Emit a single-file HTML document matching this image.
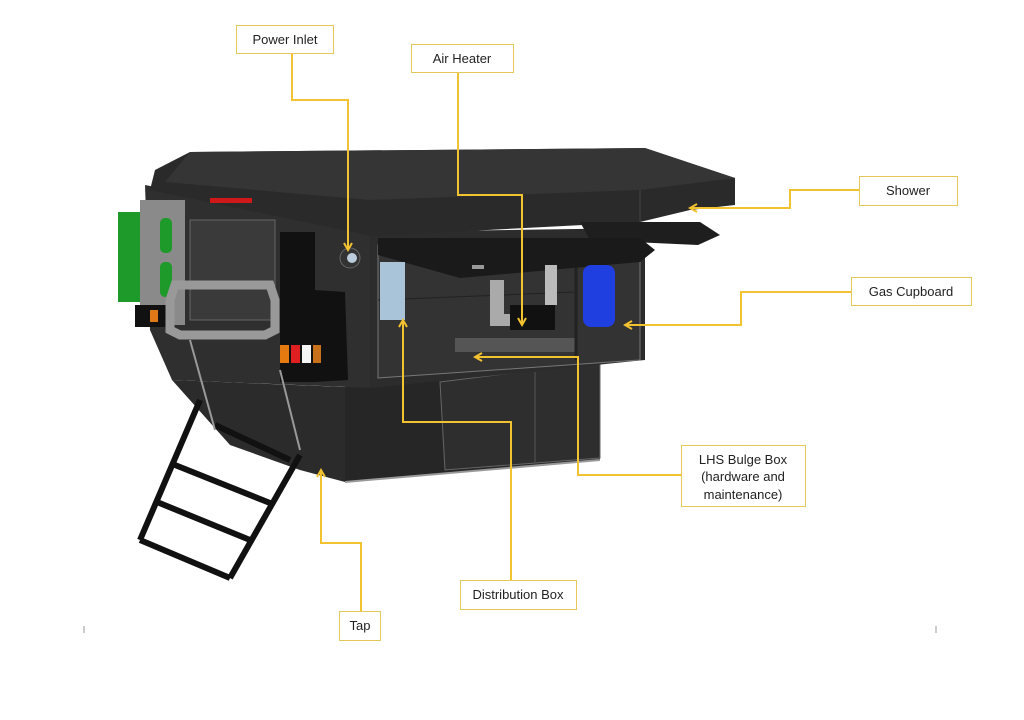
<!DOCTYPE html>
<html><head><meta charset="utf-8"><style>
html,body{margin:0;padding:0;background:#fff;width:1024px;height:720px;overflow:hidden}
svg{display:block}
text{font-family:"Liberation Sans",sans-serif;font-size:13px;fill:#222}
</style></head><body>
<svg width="1024" height="720" viewBox="0 0 1024 720" xmlns="http://www.w3.org/2000/svg">
<defs>
<marker id="a" markerWidth="10" markerHeight="10" refX="8" refY="5" orient="auto" markerUnits="userSpaceOnUse">
<path d="M1,1 L8,5 L1,9" fill="none" stroke="#f2c230" stroke-width="2"/></marker>
</defs>
<!-- lower body -->
<polygon points="172,380 370,388 345,482 300,470 230,445" fill="#2b2b2b"/>
<polygon points="345,385 600,360 600,460 345,482" fill="#262626"/>
<polygon points="440,382 600,362 600,458 445,470" fill="#2e2e2e" stroke="#666" stroke-width="1"/>
<line x1="535" y1="372" x2="535" y2="462" stroke="#555"/>
<line x1="345" y1="482" x2="600" y2="460" stroke="#999" stroke-width="2"/>
<!-- left upper face -->
<polygon points="145,185 372,230 372,388 172,380 150,330" fill="#2f2f2f"/>
<rect x="190" y="220" width="85" height="100" fill="#3a3a3a" stroke="#666"/>
<!-- front upper body -->
<polygon points="370,232 645,228 645,360 370,388" fill="#2c2c2c"/>
<polygon points="378,245 640,240 640,360 378,378" fill="#333" stroke="#777"/>
<line x1="378" y1="300" x2="576" y2="292" stroke="#222"/>
<rect x="455" y="338" width="120" height="14" fill="#555"/>
<line x1="576" y1="245" x2="576" y2="360" stroke="#222" stroke-width="3"/>
<!-- roof -->
<polygon points="190,152 645,148 735,178 735,205 690,210 640,222 372,236 150,190 155,170" fill="#2a2a2a"/>
<polygon points="190,152 645,148 735,178 640,190 370,200 165,182" fill="#353535"/>
<line x1="640" y1="190" x2="640" y2="222" stroke="#444"/>
<rect x="210" y="198" width="42" height="5" fill="#d01818"/>
<!-- shelves -->
<polygon points="580,222 700,222 720,235 698,245 590,240" fill="#1e1e1e"/>
<polygon points="378,238 640,238 655,250 640,262 460,278 378,255" fill="#1a1a1a"/>
<rect x="472" y="265" width="12" height="4" fill="#999"/>
<!-- interior -->
<rect x="380" y="262" width="25" height="58" fill="#a9c4d8"/>
<rect x="583" y="265" width="32" height="62" rx="8" fill="#1f3fe0"/>
<rect x="490" y="280" width="14" height="42" fill="#aaa"/>
<rect x="490" y="314" width="30" height="12" fill="#aaa"/>
<rect x="510" y="305" width="45" height="25" fill="#111"/>
<rect x="545" y="265" width="12" height="40" fill="#bbb"/>
<circle cx="350" cy="258" r="10" fill="#333" stroke="#666"/>
<circle cx="352" cy="258" r="5" fill="#bcd"/>
<!-- left accessories -->
<rect x="118" y="212" width="42" height="90" fill="#1e9a2a"/>
<rect x="140" y="200" width="45" height="125" fill="#8a8a8a"/>
<rect x="160" y="218" width="12" height="35" rx="5" fill="#1e9a2a"/>
<rect x="160" y="262" width="12" height="35" rx="5" fill="#1e9a2a"/>
<rect x="135" y="305" width="35" height="22" fill="#111"/>
<rect x="150" y="310" width="8" height="12" fill="#e07818"/>
<path d="M170,300 L175,285 L270,285 L275,300 L275,330 L265,335 L180,335 L170,330 Z" fill="none" stroke="#999" stroke-width="9"/>
<rect x="280" y="232" width="35" height="150" fill="#111"/>
<polygon points="315,290 345,292 348,380 315,382" fill="#111"/>
<rect x="280" y="345" width="9" height="18" fill="#e47a10"/>
<rect x="291" y="345" width="9" height="18" fill="#e02020"/>
<rect x="302" y="345" width="9" height="18" fill="#f5f5f5"/>
<rect x="313" y="345" width="8" height="18" fill="#c8701a"/>
<!-- ladder -->
<g stroke="#111" stroke-width="6" fill="none">
<line x1="200" y1="400" x2="140" y2="540"/>
<line x1="140" y1="540" x2="230" y2="578"/>
<line x1="230" y1="578" x2="300" y2="455"/>
<line x1="157" y1="502" x2="250" y2="540"/>
<line x1="175" y1="465" x2="270" y2="503"/>
<line x1="215" y1="425" x2="290" y2="460"/>
</g>
<line x1="190" y1="340" x2="215" y2="430" stroke="#999" stroke-width="2"/>
<line x1="280" y1="370" x2="300" y2="450" stroke="#999" stroke-width="2"/>
<!-- connectors -->
<g stroke="#f2c230" stroke-width="2" fill="none">
<polyline points="292,53 292,100 348,100 348,250" marker-end="url(#a)"/>
<polyline points="458,72 458,195 522,195 522,325" marker-end="url(#a)"/>
<polyline points="859,190 790,190 790,208 690,208" marker-end="url(#a)"/>
<polyline points="851,292 741,292 741,325 625,325" marker-end="url(#a)"/>
<polyline points="681,475 578,475 578,357 475,357" marker-end="url(#a)"/>
<polyline points="511,580 511,422 403,422 403,320" marker-end="url(#a)"/>
<polyline points="361,611 361,543 321,543 321,470" marker-end="url(#a)"/>
</g>
<!-- labels -->
<g fill="#fff" stroke="#e6c75c" stroke-width="1">
<rect x="236.5" y="25.5" width="97" height="28"/>
<rect x="411.5" y="44.5" width="102" height="28"/>
<rect x="859.5" y="176.5" width="98" height="29"/>
<rect x="851.5" y="277.5" width="120" height="28"/>
<rect x="681.5" y="445.5" width="124" height="61"/>
<rect x="460.5" y="580.5" width="116" height="29"/>
<rect x="339.5" y="611.5" width="41" height="29"/>
</g>
<text x="285" y="44" text-anchor="middle">Power Inlet</text>
<text x="462" y="63" text-anchor="middle">Air Heater</text>
<text x="908" y="195" text-anchor="middle">Shower</text>
<text x="911" y="296" text-anchor="middle">Gas Cupboard</text>
<text x="743" y="464" text-anchor="middle">LHS Bulge Box</text>
<text x="743" y="481" text-anchor="middle">(hardware and</text>
<text x="743" y="499" text-anchor="middle">maintenance)</text>
<text x="518" y="599" text-anchor="middle">Distribution Box</text>
<text x="360" y="630" text-anchor="middle">Tap</text>
<line x1="84" y1="626" x2="84" y2="633" stroke="#999"/>
<line x1="936" y1="626" x2="936" y2="633" stroke="#999"/>
</svg>
</body></html>
